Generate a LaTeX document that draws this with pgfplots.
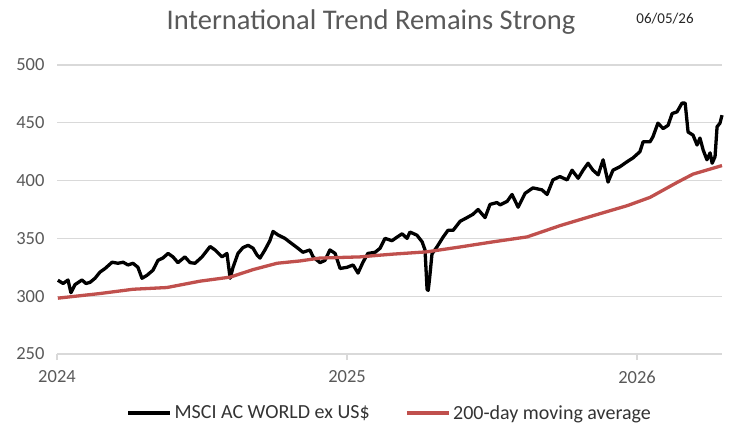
\documentclass[border=0pt]{standalone}
\usepackage{pgfplots}
\pgfplotsset{compat=1.18}
\usepackage{fontspec}
\setmainfont{Carlito}
\definecolor{gridgray}{HTML}{D9D9D9}
\definecolor{txtgray}{HTML}{595959}
\definecolor{mared}{HTML}{C0504D}
\begin{document}
\begin{tikzpicture}
\path[use as bounding box] (0,0) rectangle (750bp,440bp);
\begin{axis}[
  at={(57bp,86bp)}, anchor=south west,
  width=665bp, height=289bp, scale only axis,
  xmin=2024, xmax=2026.293, ymin=250, ymax=500,
  xtick={2024,2025,2026}, xticklabels={2024,2025,2026},
  ytick={250,300,350,400,450,500},
  ymajorgrids, grid style={gridgray, line width=1.2bp},
  axis lines*=left,
  y axis line style={draw=none},
  x axis line style={gridgray, line width=1.2bp},
  ytick style={draw=none},
  xtick style={gridgray, line width=1.2bp},
  tick align=outside, major tick length=6bp,
  /pgf/number format/assume math mode=true,
  /pgf/number format/1000 sep={},
  ticklabel style={font=\fontsize{18.5bp}{20bp}\selectfont, text=txtgray},
  yticklabel style={xshift=-3bp},
  xticklabel style={yshift=-7bp},
  clip=false,
  legend style={at={(0.5,-0.204)}, anchor=center, draw=none, fill=none,
    legend columns=2, font=\fontsize{20bp}{22bp}\selectfont, text=black!80,
    /tikz/every even column/.append style={column sep=33bp},
    inner sep=0pt},
  legend image code/.code={\draw[#1, line width=4.5bp] (0bp,0) -- (42bp,0);},
]
\addplot[black, line width=3.3bp, line join=round] coordinates {
(2024.003,313.8)(2024.021,311)(2024.038,314)(2024.048,303)(2024.062,310)(2024.086,314)
(2024.100,311)(2024.114,312)(2024.131,315.5)(2024.148,320.8)(2024.166,324)(2024.190,329.4)
(2024.210,328.5)(2024.228,329.4)(2024.245,327)(2024.262,328.5)(2024.279,325)(2024.293,315.5)
(2024.310,318)(2024.331,322.5)(2024.348,331)(2024.365,333)(2024.383,337)(2024.400,334)
(2024.417,329)(2024.441,334)(2024.459,329)(2024.476,328.5)(2024.500,334)(2024.528,343)
(2024.545,340)(2024.569,334)(2024.586,337)(2024.597,315.5)(2024.607,325)(2024.624,337)
(2024.641,342)(2024.659,344)(2024.676,341.5)(2024.690,335.5)(2024.700,333)(2024.717,340)
(2024.734,348)(2024.745,356)(2024.762,353)(2024.786,350)(2024.803,346.7)(2024.828,342)
(2024.848,338)(2024.872,340)(2024.883,334)(2024.907,329)(2024.924,331)(2024.941,340)
(2024.959,337)(2024.976,324)(2025.000,325)(2025.021,327)(2025.038,320)(2025.055,329.4)
(2025.072,337)(2025.097,338)(2025.114,341.5)(2025.131,350)(2025.155,348)(2025.172,351)
(2025.190,354)(2025.207,350)(2025.217,355.5)(2025.241,352.8)(2025.259,347)(2025.269,340)
(2025.276,306)(2025.280,305)(2025.285,316)(2025.293,336.6)(2025.310,342.6)(2025.331,351)
(2025.348,357)(2025.366,357)(2025.390,364.8)(2025.414,368)(2025.434,370.8)(2025.452,375)
(2025.476,368)(2025.493,379.4)(2025.517,381)(2025.528,379)(2025.552,382)(2025.569,388)
(2025.590,377)(2025.614,389)(2025.641,393.7)(2025.672,392)(2025.690,388)(2025.710,400.6)
(2025.734,403.5)(2025.759,400.6)(2025.776,409)(2025.797,402)(2025.814,409)(2025.831,415)
(2025.848,409)(2025.866,405)(2025.883,418)(2025.900,398.7)(2025.917,409)(2025.941,412)
(2025.966,416.4)(2025.986,419.6)(2026.010,425)(2026.021,433.6)(2026.045,433.6)(2026.055,438)
(2026.072,449.7)(2026.090,445)(2026.107,447.8)(2026.121,458)(2026.138,459.5)(2026.155,467)
(2026.166,467)(2026.176,442)(2026.193,439.4)(2026.207,430.8)(2026.217,436.8)(2026.228,426.5)
(2026.241,418)(2026.252,424)(2026.259,415)(2026.269,420.7)(2026.276,446.6)(2026.286,449.7)
(2026.293,456.6)
};
\addlegendentry{MSCI AC WORLD ex US\$}
\addplot[mared, line width=3.3bp, line join=round] coordinates {
(2024.003,298.3)(2024.148,302.3)(2024.262,306)(2024.379,307.5)(2024.493,313)(2024.597,316.5)
(2024.676,323)(2024.759,328.5)(2024.838,330.5)(2024.907,333)(2025.045,334)(2025.114,335.5)
(2025.159,336.4)(2025.276,338.4)(2025.390,342.6)(2025.503,347)(2025.621,351.3)(2025.734,361)
(2025.848,369.6)(2025.966,378.3)(2026.045,385.5)(2026.138,398.4)(2026.193,405.6)(2026.293,413)
};
\addlegendentry{200-day moving average}
\end{axis}
\node[text=txtgray, font=\fontsize{28.5bp}{31bp}\selectfont] at (371bp,418bp) {International Trend Remains Strong};
\node[text=black!85, font=\fontsize{15bp}{17bp}\selectfont] at (665bp,421bp) {06/05/26};
\end{tikzpicture}
\end{document}
